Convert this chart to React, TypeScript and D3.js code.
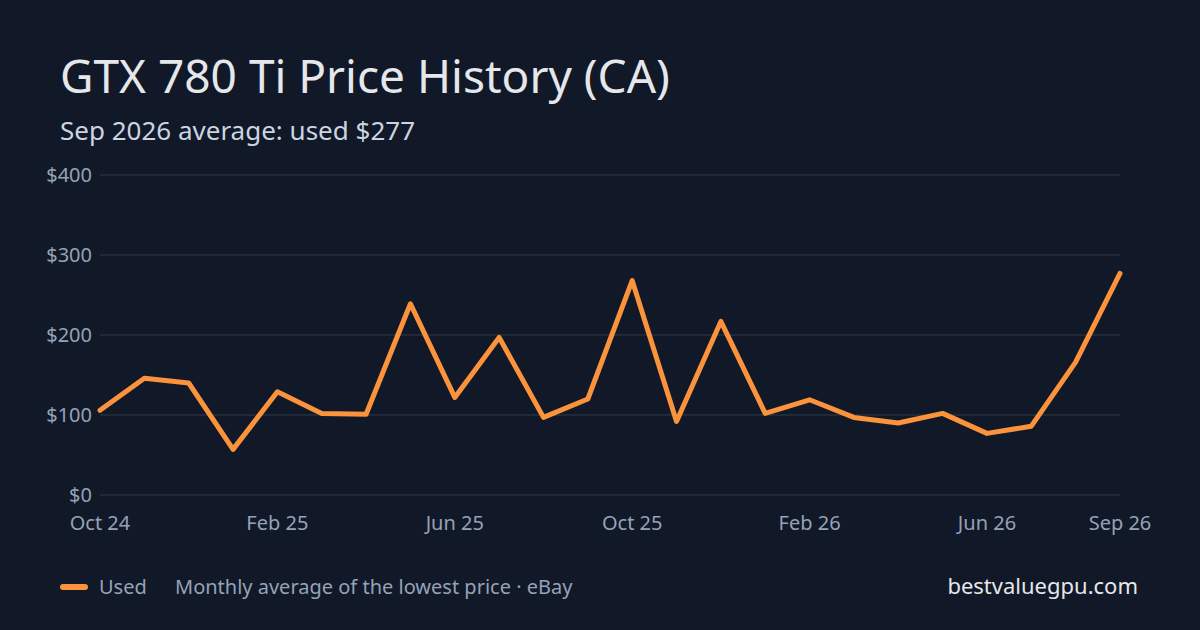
import React, { useEffect, useRef } from 'react';
import * as d3 from 'd3';

const months = [
  'Oct 24', 'Nov 24', 'Dec 24', 'Jan 25', 'Feb 25', 'Mar 25', 'Apr 25', 'May 25',
  'Jun 25', 'Jul 25', 'Aug 25', 'Sep 25', 'Oct 25', 'Nov 25', 'Dec 25', 'Jan 26',
  'Feb 26', 'Mar 26', 'Apr 26', 'May 26', 'Jun 26', 'Jul 26', 'Aug 26', 'Sep 26',
];
const usedPrices = [
  106, 146, 140, 57, 129, 102, 101, 239, 122, 197, 97, 120,
  268, 92, 217, 102, 119, 97, 90, 102, 77, 86, 166, 277,
];
const xTicks = ['Oct 24', 'Feb 25', 'Jun 25', 'Oct 25', 'Feb 26', 'Jun 26', 'Sep 26'];
const yTicks = [0, 100, 200, 300, 400];

const W = 1200;
const H = 630;
const FONT = '"Noto Sans", "Open Sans", sans-serif';

export default function App() {
  const svgRef = useRef<SVGSVGElement>(null);

  useEffect(() => {
    if (!svgRef.current) return;
    const svg = d3.select(svgRef.current);
    svg.selectAll('*').remove();

    const margin = { top: 175, right: 80, bottom: 135, left: 100 };

    svg.append('rect').attr('width', W).attr('height', H).attr('fill', '#111827');

    const x = d3.scalePoint<string>()
      .domain(months)
      .range([margin.left, W - margin.right]);

    const y = d3.scaleLinear()
      .domain([0, 400])
      .range([H - margin.bottom, margin.top]);

    // Title
    svg.append('text')
      .attr('x', 60).attr('y', 93)
      .attr('font-family', FONT).attr('font-size', 46)
      .attr('fill', '#e5e7eb')
      .text('GTX 780 Ti Price History (CA)');

    svg.append('text')
      .attr('x', 60).attr('y', 140)
      .attr('font-family', FONT).attr('font-size', 26)
      .attr('fill', '#cbd5e1')
      .text('Sep 2026 average: used $277');

    // Grid lines + y labels
    const grid = svg.append('g');
    grid.selectAll('line')
      .data(yTicks)
      .enter()
      .append('line')
      .attr('x1', margin.left)
      .attr('x2', W - margin.right)
      .attr('y1', d => y(d))
      .attr('y2', d => y(d))
      .attr('stroke', '#1f2937')
      .attr('stroke-width', 2);

    grid.selectAll('text')
      .data(yTicks)
      .enter()
      .append('text')
      .attr('x', margin.left - 8)
      .attr('y', d => y(d))
      .attr('dy', '0.35em')
      .attr('text-anchor', 'end')
      .attr('font-family', FONT).attr('font-size', 20)
      .attr('fill', '#94a3b8')
      .text(d => `$${d}`);

    // X labels
    svg.append('g')
      .selectAll('text')
      .data(xTicks)
      .enter()
      .append('text')
      .attr('x', d => x(d)!)
      .attr('y', H - margin.bottom + 35)
      .attr('text-anchor', 'middle')
      .attr('font-family', FONT).attr('font-size', 20)
      .attr('fill', '#94a3b8')
      .text(d => d);

    // Line
    const line = d3.line<number>()
      .x((_, i) => x(months[i])!)
      .y(d => y(d));

    svg.append('path')
      .datum(usedPrices)
      .attr('fill', 'none')
      .attr('stroke', '#fb923c')
      .attr('stroke-width', 5)
      .attr('stroke-linejoin', 'round')
      .attr('stroke-linecap', 'round')
      .attr('d', line);

    // Legend
    svg.append('rect')
      .attr('x', 60).attr('y', 584)
      .attr('width', 28).attr('height', 6)
      .attr('rx', 3)
      .attr('fill', '#fb923c');

    svg.append('text')
      .attr('x', 99).attr('y', 594)
      .attr('font-family', FONT).attr('font-size', 20)
      .attr('fill', '#94a3b8')
      .text('Used');

    svg.append('text')
      .attr('x', 175).attr('y', 594)
      .attr('font-family', FONT).attr('font-size', 20)
      .attr('fill', '#94a3b8')
      .text('Monthly average of the lowest price · eBay');

    svg.append('text')
      .attr('x', 1138).attr('y', 594)
      .attr('text-anchor', 'end')
      .attr('font-family', FONT).attr('font-size', 22)
      .attr('fill', '#e5e7eb')
      .text('bestvaluegpu.com');
  }, []);

  return (
    <svg
      ref={svgRef}
      width={W}
      height={H}
      style={{ display: 'block', position: 'absolute', left: 0, top: 0 }}
    />
  );
}
